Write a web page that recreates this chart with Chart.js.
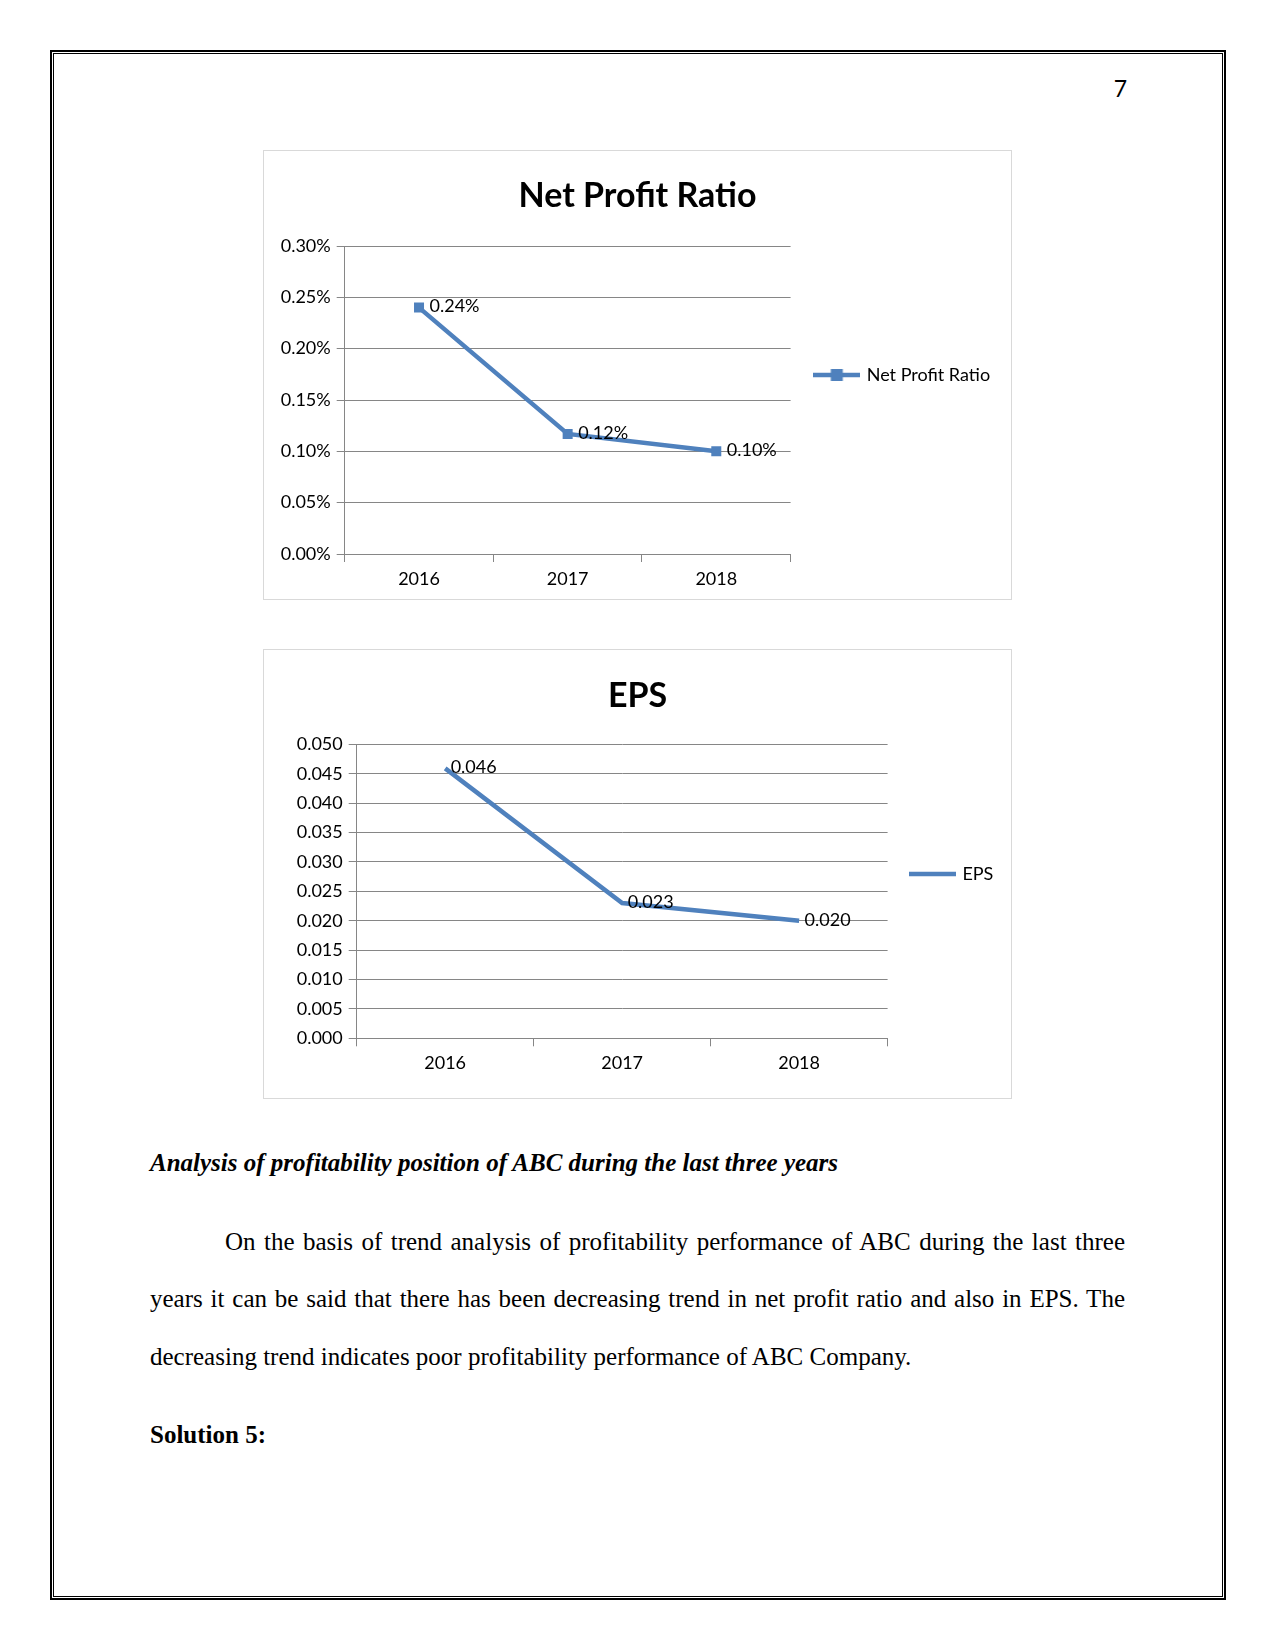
<!DOCTYPE html>
<html>
<head>
<meta charset="utf-8">
<script src="https://cdn.jsdelivr.net/npm/chart.js@4.4.1/dist/chart.umd.min.js"></script>
<style>
  html, body { margin: 0; padding: 0; background: #fff; }
  #page { position: relative; width: 1275px; height: 1650px; overflow: hidden; background: #fff; }
  .abs { position: absolute; }
  #outer { left: 50px; top: 50px; width: 1172px; height: 1546px; border: 2px solid #000; }
  #inner { left: 53px; top: 53px; width: 1168px; height: 1542px; border: 1px solid #000; }
  .box { border: 1px solid #d9d9d9; box-sizing: border-box; width: 749px; height: 450px; pointer-events: none; }
  canvas.chart { position: absolute; }
  .serif { font-family: "Liberation Serif", "Times New Roman", serif; font-size: 25px; line-height: 30px; color: #000; white-space: nowrap; }
  .jline { width: 975px; text-align: justify; text-align-last: justify; white-space: normal; }
</style>
</head>
<body>
<div id="page">
  <div id="outer" class="abs"></div>
  <div id="inner" class="abs"></div>

  <div class="abs" style="left:1000px; top:73px; width:127px; text-align:right; font-family:Lato; font-size:23px; line-height:30px; color:#000;">7</div>

  <canvas id="c1" class="chart" width="749" height="450" style="left:263px; top:150px;"></canvas>
  <div class="abs box" style="left:263px; top:150px;"></div>

  <canvas id="c2" class="chart" width="749" height="450" style="left:263px; top:649px;"></canvas>
  <div class="abs box" style="left:263px; top:649px;"></div>

  <div class="abs serif" style="left:150px; top:1147.5px; font-weight:bold; font-style:italic;">Analysis of profitability position of ABC during the last three years</div>

  <div class="abs serif jline" style="left:150px; top:1226.5px; text-indent:75px;">On the basis of trend analysis of profitability performance of ABC during the last three</div>
  <div class="abs serif jline" style="left:150px; top:1284px;">years it can be said that there has been decreasing trend in net profit ratio and also in EPS. The</div>
  <div class="abs serif" style="left:150px; top:1342.2px;">decreasing trend indicates poor profitability performance of ABC Company.</div>

  <div class="abs serif" style="left:150px; top:1420.3px; font-weight:bold;">Solution 5:</div>
</div>

<script>
// ---------------- data ----------------
const years = ['2016', '2017', '2018'];
const netProfitRatio = [0.240, 0.117, 0.100];   // percent
const eps = [0.0459, 0.0230, 0.0200];
const nprAxis = { min: 0, max: 0.30, step: 0.05 };   // percent
const epsAxis = { min: 0, max: 0.050, step: 0.005 };
const nprTitle = 'Net Profit Ratio';
const epsTitle = 'EPS';

// ---------------- styling ----------------
const BLUE = '#4F81BD';
const GRID = '#868686';
const FONT = 'Lato';
const FS = 18;
const TITLE_FS = 34;

function legendSymbol(withMarker) {
  const c = document.createElement('canvas');
  c.width = 47; c.height = 14;
  const g = c.getContext('2d');
  g.fillStyle = BLUE;
  g.fillRect(0, 4.75, 47, 4.5);
  if (withMarker) g.fillRect(17.5, 1, 12, 12);
  return c;
}

const valueLabels = {
  id: 'valueLabels',
  afterDatasetsDraw(chart, args, opts) {
    const ctx = chart.ctx;
    chart.data.datasets.forEach((ds, di) => {
      const meta = chart.getDatasetMeta(di);
      meta.data.forEach((pt, i) => {
        ctx.save();
        ctx.font = FS + 'px ' + FONT;
        ctx.fillStyle = '#000';
        ctx.textAlign = 'left';
        ctx.textBaseline = 'middle';
        ctx.fillText(opts.format(ds.data[i]), pt.x + opts.dx, pt.y + opts.dy);
        ctx.restore();
      });
    });
  }
};

// fixes the legend box width so the plot area ends where the reference's does
const legendWidthFix = {
  id: 'legendWidthFix',
  beforeLayout(chart, args, opts) {
    const lg = chart.legend;
    if (lg && !lg._widthFixed) {
      const f = lg.fit;
      lg.fit = function () { f.call(this); this.width = opts.width; };
      lg._widthFixed = true;
    }
  }
};

function build(id, spec) {
  const W = 749, H = 450;
  const PW = 41.8;
  const area = spec.area;
  const labPad = spec.legendStart - area.right + 2.6;
  const titleLH = TITLE_FS * 1.2;
  const tTop = spec.titleMid - titleLH / 2;
  const tBottom = area.top - tTop - titleLH;

  return new Chart(document.getElementById(id), {
    type: 'line',
    data: {
      labels: spec.labels,
      datasets: [{
        label: spec.title,
        data: spec.data,
        borderColor: BLUE,
        backgroundColor: BLUE,
        borderWidth: 4.5,
        tension: 0,
        fill: false,
        pointStyle: 'rect',
        pointRadius: spec.marker ? 7.07 : 0,
        pointHoverRadius: spec.marker ? 7.07 : 0,
        pointBackgroundColor: BLUE,
        pointBorderColor: BLUE,
        pointBorderWidth: 0
      }]
    },
    options: {
      responsive: false,
      animation: false,
      devicePixelRatio: 1,
      events: [],
      layout: { padding: { left: 0, top: 0, bottom: 0, right: 0 } },
      plugins: {
        title: {
          display: true,
          text: spec.title,
          color: '#000',
          font: { family: FONT, size: TITLE_FS, weight: 'bold' },
          padding: { top: tTop, bottom: tBottom }
        },
        legend: {
          position: 'right',
          align: 'center',
          labels: {
            usePointStyle: true,
            pointStyle: legendSymbol(spec.marker),
            pointStyleWidth: PW,
            padding: labPad,
            color: '#000',
            font: { family: FONT, size: FS }
          }
        },
        legendWidthFix: { width: W - area.right },
        tooltip: { enabled: false },
        valueLabels: { dx: spec.dx, dy: -1, format: spec.fmt }
      },
      scales: {
        x: {
          offset: true,
          grid: { offset: true, drawOnChartArea: false, drawTicks: true, tickLength: 8, color: GRID, lineWidth: 1 },
          border: { color: GRID, width: 1 },
          ticks: { color: '#000', font: { family: FONT, size: FS }, padding: spec.xPad, maxRotation: 0 },
          afterFit(s) { s.height = H - area.bottom; }
        },
        y: {
          min: spec.axis.min,
          max: spec.axis.max,
          grid: { color: GRID, lineWidth: 1, tickLength: 8, drawTicks: true },
          border: { color: GRID, width: 1 },
          ticks: { stepSize: spec.axis.step, color: '#000', font: { family: FONT, size: FS }, padding: 6, callback: spec.tickFmt },
          afterFit(s) { s.width = area.left; }
        }
      }
    },
    plugins: [legendWidthFix, valueLabels]
  });
}

build('c1', {
  labels: years, data: netProfitRatio, title: nprTitle, axis: nprAxis, marker: true,
  area: { left: 81.7, right: 527.6, top: 96, bottom: 404 },
  legendStart: 813.3 - 263,
  titleMid: 46.5,
  xPad: 6.5, dx: 10.5,
  fmt: v => v.toFixed(2) + '%',
  tickFmt: v => Number(v).toFixed(2) + '%'
});

build('c2', {
  labels: years, data: eps, title: epsTitle, axis: epsAxis, marker: false,
  area: { left: 93.7, right: 624.6, top: 95.3, bottom: 389.3 },
  legendStart: 909 - 263,
  titleMid: 47,
  xPad: 6, dx: 5.5,
  fmt: v => v.toFixed(3),
  tickFmt: v => Number(v).toFixed(3)
});
</script>
</body>
</html>
